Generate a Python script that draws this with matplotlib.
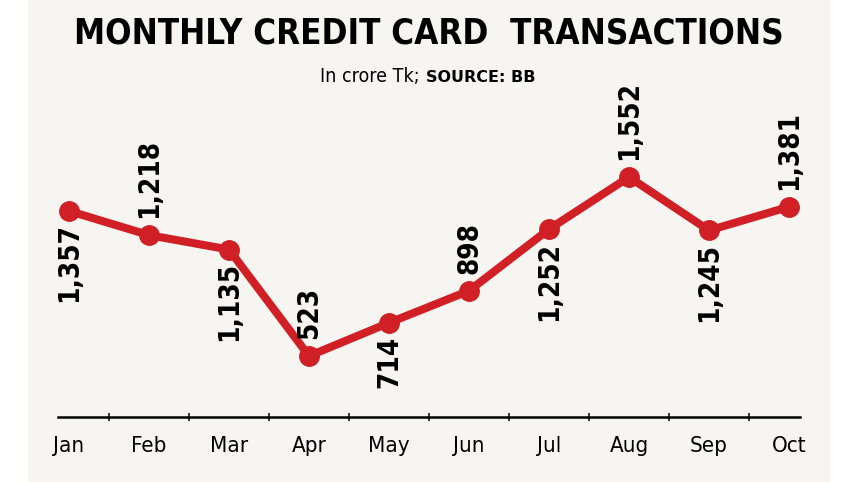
import matplotlib
matplotlib.use("Agg")
import matplotlib.pyplot as plt
from matplotlib.patches import Rectangle
from matplotlib.ticker import FixedLocator

# monthly values, crore Tk
months = ["Jan", "Feb", "Mar", "Apr", "May", "Jun", "Jul", "Aug", "Sep", "Oct"]
values = [1357, 1218, 1135, 523, 714, 898, 1252, 1552, 1245, 1381]
labels = ["1,357", "1,218", "1,135", "523", "714", "898", "1,252", "1,552", "1,245", "1,381"]
above = [False, True, False, True, False, True, False, True, False, True]

W, H = 857, 482
red = "#d11f26"
bg = "#f6f5f1"
cond = dict(family="DejaVu Sans", stretch="condensed")

fig = plt.figure(figsize=(W / 100, H / 100), dpi=100)
fig.patch.set_facecolor("white")
fig.patches.append(Rectangle((28 / W, 0), (830 - 28) / W, 1, transform=fig.transFigure,
                             facecolor=bg, edgecolor="none", zorder=-10))

# axes placed in pixels: x line 58..800, bottom at y=417, top at y=100
ax = fig.add_axes([58 / W, (H - 417) / H, (800 - 58) / W, (417 - 100) / H])
ax.set_facecolor("none")
x = list(range(len(months)))
ax.plot(x, values, color=red, lw=5.8, marker="o", ms=14, zorder=3, solid_capstyle="round",
        clip_on=False)
ax.set_xlim(-0.1375, 9.1375)
ax.set_ylim(172.5, 1994.8)

for i, (v, lab) in enumerate(zip(values, labels)):
    off = 12 if above[i] else -9
    ax.annotate(lab, (i, v), xytext=(0, off), textcoords="offset points",
                rotation=90, ha="center", va="bottom" if above[i] else "top",
                fontsize=20, fontweight="bold", **cond)

for s in ["top", "left", "right"]:
    ax.spines[s].set_visible(False)
ax.spines["bottom"].set_linewidth(1.8)
ax.set_yticks([])
ax.set_xticks(x)
ax.set_xticklabels(months, fontsize=16, **cond)
ax.tick_params(axis="x", which="major", length=0, pad=14)
ax.xaxis.set_minor_locator(FixedLocator([i + 0.5 for i in range(len(months) - 1)]))
ax.tick_params(axis="x", which="minor", length=5.5, width=1.1, direction="inout")

fig.text(429 / W, 1 - 33 / H, "MONTHLY CREDIT CARD  TRANSACTIONS", ha="center", va="center",
         fontsize=25, fontweight="bold", **cond)
fig.text(425 / W, 1 - 77 / H, "In crore Tk; ", ha="right", va="center", fontsize=14, **cond)
fig.text(426 / W, 1 - 77 / H, "SOURCE: BB", ha="left", va="center", fontsize=11.5,
         fontweight="bold", family="DejaVu Sans")

fig.savefig("out.png", dpi=100)
